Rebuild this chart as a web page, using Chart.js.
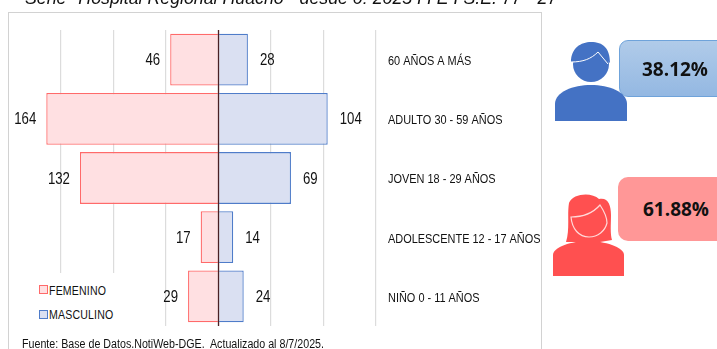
<!DOCTYPE html>
<html>
<head>
  <meta charset="utf-8">
  <title>Pirámide por edad y sexo</title>
  <script src="https://cdnjs.cloudflare.com/ajax/libs/Chart.js/4.4.1/chart.umd.min.js"></script>
  <style>
    html, body { margin: 0; padding: 0; background: #fff; overflow: hidden; }
    #wrap { position: relative; width: 717px; height: 349px; overflow: hidden; font-family: "Liberation Sans", sans-serif; }
    #frame { position: absolute; left: 8px; top: 12px; width: 533.5px; height: 345px; border: 1.5px solid #d2d2d2; box-sizing: border-box; }
    canvas { position: absolute; left: 0; top: 0; }
    .txt { position: absolute; white-space: nowrap; color: #111; transform-origin: left top; }
    #title { left: 25px; top: -12px; font-size: 18px; font-style: italic; transform: scaleX(.987); }
    #source { left: 22px; top: 337px; font-size: 12px; transform: scaleX(.89); }
    .leg { font-size: 12px; transform: scaleX(.88); letter-spacing: .2px; }
    .swatch { position: absolute; width: 7px; height: 7px; border: 1px solid; }
    #legendBox { position: absolute; left: 30px; top: 273px; width: 122px; height: 55px; background: #fff; }
    .call { position: absolute; font-family: "Open Sans", sans-serif; font-weight: 700; font-size: 19px; color: #111; box-sizing: border-box; }
    #callM { left: 619px; top: 40px; width: 110px; height: 57px; border: 1px solid #6fa3da; border-radius: 9px; background: linear-gradient(#b0cbe9, #94b8e2); line-height: 57px; padding-left: 22px; }
    #callF { left: 618px; top: 177px; width: 110px; height: 64px; border-radius: 10px; background: #ff9797; line-height: 64px; padding-left: 25px; }
    svg { position: absolute; }
  </style>
</head>
<body>
<div id="wrap">
  <div id="frame"></div>
  <canvas id="myChart" width="717" height="349"></canvas>
  <div class="txt" id="title">Serie* Hospital Regional Huacho - desde 0: 2025 I I E I S.E. 77 - 27</div>

  <div id="legendBox"></div>
  <div class="swatch" style="left:39px;top:285px;border-color:#ff6a6a;background:#ffe0e2"></div>
  <div class="txt leg" id="legF" style="left:49px;top:284px">FEMENINO</div>
  <div class="swatch" style="left:39px;top:310px;border-color:#4f7cc9;background:#dae0f2"></div>
  <div class="txt leg" id="legM" style="left:49px;top:308px">MASCULINO</div>
  <div class="txt" id="source">Fuente: Base de Datos.NotiWeb-DGE.&nbsp; Actualizado al 8/7/2025.</div>

  <div class="call" id="callM">38.12%</div>
  <div class="call" id="callF">61.88%</div>
  <svg style="left:553px;top:40px" width="76" height="84" viewBox="0 0 76 84">
    <path d="M2 81 V64 C2 52 20 45 38 45 C56 45 74 52 74 64 V81 Z" fill="#4472c4"/>
    <circle cx="38" cy="24" r="18" fill="#4472c4"/>
    <path d="M18 22 C18 8 28 2 38 2 C50 2 57 8 57 23 L45 12 C38 19 30 22 18 22 Z" fill="#4472c4"/>
    <path d="M18 22 C30 22 38 19 45 12 L55 24" fill="none" stroke="#fff" stroke-width="1"/>
  </svg>
  <svg style="left:552px;top:193px" width="74" height="84" viewBox="0 0 74 84">
    <path d="M1 83 V62 C1 54 20 48 36 48 C52 48 72 54 72 62 V83 Z" fill="#ff5050"/>
    <path d="M14 49 C18 36 15 22 17 10 C21 0 40 -1 47 6 C56 4 59 12 59 22 C59 32 58 40 60 47 L48 49 L26 49 Z" fill="#ff5050"/>
    <path d="M19 24 C30 24 41 20 48 12 C52 18 55 24 55 30 C53 38 46 44 37 44 C27 44 20 36 19 24 Z" fill="#ff5050" stroke="#ffd9d9" stroke-width="1.2"/>
  </svg>
</div>
<script>
  // datos
  var categories = ['60 AÑOS A MÁS', 'ADULTO 30 - 59 AÑOS', 'JOVEN 18 - 29 AÑOS', 'ADOLESCENTE 12 - 17 AÑOS', 'NIÑO 0 - 11 AÑOS'];
  var femenino = [46, 164, 132, 17, 29];
  var masculino = [28, 104, 69, 14, 24];

  // texto angosto: la fuente del original no esta instalada
  function narrowText(ctx, text, x, y, sx) {
    ctx.save();
    ctx.translate(x, y);
    ctx.scale(sx, 1);
    ctx.fillText(text, 0, 0);
    ctx.restore();
  }

  // etiquetas de valor, categorias y linea central
  var extras = {
    id: 'extras',
    afterDatasetsDraw: function(chart) {
      var ctx = chart.ctx;
      var x = chart.scales.x;
      var y = chart.scales.y;
      ctx.save();
      ctx.fillStyle = '#111';
      ctx.textBaseline = 'middle';
      categories.forEach(function(c, i) {
        var yy = y.getPixelForValue(i);
        ctx.font = '16.5px "Liberation Sans"';
        ctx.textAlign = 'right';
        narrowText(ctx, femenino[i], x.getPixelForValue(-femenino[i]) - 10, yy + 1, 0.8);
        ctx.textAlign = 'left';
        narrowText(ctx, masculino[i], x.getPixelForValue(masculino[i]) + 12, yy + 1, 0.8);
        ctx.font = '12.5px "Liberation Sans"';
        narrowText(ctx, c, chart.chartArea.right + 12, yy + 2, 0.875);
      });
      ctx.strokeStyle = '#4a2024';
      ctx.lineWidth = 1.3;
      ctx.beginPath();
      ctx.moveTo(x.getPixelForValue(0), chart.chartArea.top);
      ctx.lineTo(x.getPixelForValue(0), chart.chartArea.bottom);
      ctx.stroke();
      ctx.restore();
    }
  };

  new Chart(document.getElementById('myChart'), {
    type: 'bar',
    data: {
      labels: categories,
      datasets: [
        {
          label: 'FEMENINO',
          data: femenino.map(function(v) { return -v; }),
          backgroundColor: '#ffe0e2',
          borderColor: '#ff6a6a',
          borderWidth: 1.3,
          clip: false
        },
        {
          label: 'MASCULINO',
          data: masculino,
          backgroundColor: '#dae0f2',
          borderColor: '#4f7cc9',
          borderWidth: 1.3,
          clip: false
        }
      ]
    },
    options: {
      indexAxis: 'y',
      responsive: false,
      animation: false,
      barPercentage: 0.875,
      categoryPercentage: 1,
      layout: { padding: { left: 61, top: 30, right: 341, bottom: 23 } },
      plugins: {
        legend: { display: false },
        tooltip: { enabled: false }
      },
      scales: {
        x: {
          stacked: true,
          min: -150,
          max: 150,
          ticks: { display: false, stepSize: 50 },
          grid: { color: '#dcdcdc', lineWidth: 1.2, drawTicks: false },
          border: { display: false }
        },
        y: {
          stacked: true,
          afterFit: function(scale) { scale.width = 0; },
          grid: { display: false },
          border: { display: false },
          ticks: { display: false }
        }
      }
    },
    plugins: [extras]
  });
</script>
</body>
</html>
